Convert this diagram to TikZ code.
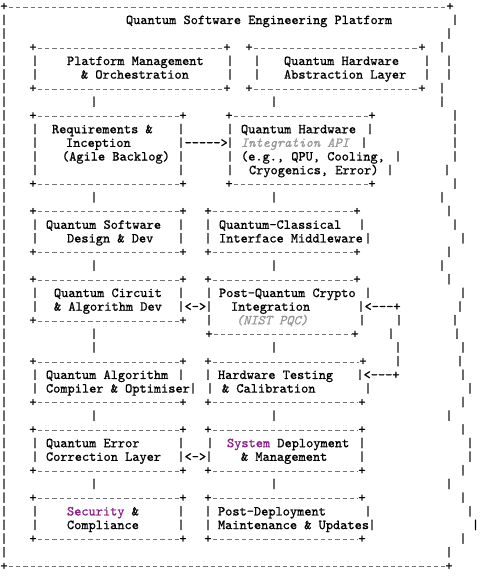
\documentclass[tikz,border=0pt]{standalone}
\usepackage{fontspec}
\newfontfamily\monof{lmmono10-regular}[Extension=.otf, ItalicFont=lmmono10-italic, FakeBold=0.9]
\usepackage{xcolor}
\definecolor{lg}{RGB}{150,150,150}
\definecolor{pu}{RGB}{140,30,140}
\tikzset{
  g/.style={font=\fontsize{13.7}{13.7}\selectfont\monof, inner sep=0pt, outer sep=0pt, text=black},
  dl/.style={draw=black!55, line width=0.75pt, dash pattern=on 4.2pt off 3pt, dash phase=5.7pt},
  gi/.style={g, text=lg, font=\fontsize{13.7}{13.7}\selectfont\monof\itshape},
}
\newcommand\hy{\mbox{-}}
\newcommand\RY[1]{10.4+13.65*(#1-1)}
\newcommand\mybar[3]{\node[g,anchor=base] (#1) at (#2,{\RY{#3}}) {|};}
\newcommand\myplus[3]{\node[g,anchor=base] (#1) at (#2,{\RY{#3}}) {+};}
\newcommand\mytext[4]{\node[g,anchor=base west] (#1) at (#2,{\RY{#3}}) {#4};}
\newcommand\mygrey[4]{\node[gi,anchor=base west] (#1) at (#2,{\RY{#3}}) {#4};}
\newcommand\mydash[2]{\draw[dl] ([yshift=3.4pt]#1.base east) -- ([yshift=3.4pt]#2.base west);}
\begin{document}
\begin{tikzpicture}[x=1pt,y=-1pt]
\useasboundingbox (0,0) rectangle (480,579);
% outer frame
\myplus{o1}{4}{1} \myplus{o2}{450}{1} \mydash{o1}{o2}
\foreach \r in {2,...,41} {\mybar{lb\r}{4}{\r}}
\myplus{o3}{4}{42} \myplus{o4}{449}{42} \mydash{o3}{o4}
% row 2-3
\mytext{title}{126}{2}{Quantum Software Engineering Platform}
\mybar{rb2}{455}{2}
\mybar{rb3}{449}{3}
% row 4-7 : top boxes
\myplus{a4}{33}{4} \myplus{b4}{227}{4} \myplus{c4}{249}{4} \myplus{d4}{422}{4}
\mydash{a4}{b4} \mydash{c4}{d4} \mybar{rb4}{442}{4}
\mybar{a5}{35}{5} \mytext{t5a}{67}{5}{Platform Management} \mybar{b5}{230}{5}
\mybar{c5}{257}{5} \mytext{t5b}{284}{5}{Quantum Hardware} \mybar{d5}{427}{5} \mybar{rb5}{449}{5}
\mybar{a6}{35}{6} \mytext{t6a}{81}{6}{\& Orchestration} \mybar{b6}{230}{6}
\mybar{c6}{257}{6} \mytext{t6b}{284}{6}{Abstraction Layer} \mybar{d6}{427}{6} \mybar{rb6}{449}{6}
\myplus{a7}{33}{7} \myplus{b7}{227}{7} \myplus{c7}{249}{7} \myplus{d7}{422}{7}
\mydash{a7}{b7} \mydash{c7}{d7} \mybar{rb7}{442}{7}
% row 8
\mybar{v8a}{94}{8} \mybar{v8b}{274}{8} \mybar{rb8}{442}{8}
% rows 9-14
\myplus{a9}{33}{9} \myplus{b9}{183}{9} \myplus{c9}{229}{9} \myplus{d9}{372}{9}
\mydash{a9}{b9} \mydash{c9}{d9} \mybar{rb9}{455}{9}
\mybar{a10}{35}{10} \mytext{t10a}{52}{10}{Requirements \&} \mybar{b10}{181}{10}
\mybar{c10}{230}{10} \mytext{t10b}{241}{10}{Quantum Hardware} \mybar{d10}{370}{10} \mybar{rb10}{455}{10}
\mybar{a11}{35}{11} \mytext{t11a}{66}{11}{Inception} \mybar{b11}{181}{11}
\mytext{ar11}{184.6}{11}{\hy\hy\hy\hy\hy>}
\mybar{c11}{230}{11} \mygrey{t11b}{241}{11}{Integration API} \mybar{d11}{364}{11} \mybar{rb11}{455}{11}
\mybar{a12}{35}{12} \mytext{t12a}{62}{12}{(Agile Backlog)} \mybar{b12}{181}{12}
\mybar{c12}{230}{12} \mytext{t12b}{241}{12}{(e.g., QPU, Cooling,} \mybar{d12}{398}{12} \mybar{rb12}{455}{12}
\mybar{a13}{35}{13} \mybar{b13}{181}{13}
\mybar{c13}{230}{13} \mytext{t13b}{249}{13}{Cryogenics, Error)} \mybar{d13}{390}{13} \mybar{rb13}{447}{13}
\myplus{a14}{33}{14} \myplus{b14}{183}{14} \myplus{c14}{229}{14} \myplus{d14}{372}{14}
\mydash{a14}{b14} \mydash{c14}{d14} \mybar{rb14}{455}{14}
% row 15
\mybar{v15a}{94}{15} \mybar{v15b}{274}{15} \mybar{rb15}{442}{15}
% rows 16-19
\myplus{a16}{33}{16} \myplus{b16}{183}{16} \myplus{c16}{208}{16} \myplus{d16}{357}{16}
\mydash{a16}{b16} \mydash{c16}{d16} \mybar{rb16}{449}{16}
\mybar{a17}{35}{17} \mytext{t17a}{46}{17}{Quantum Software} \mybar{b17}{181}{17}
\mybar{c17}{208}{17} \mytext{t17b}{219}{17}{Quantum-Classical} \mybar{d17}{362}{17} \mybar{rb17}{455}{17}
\mybar{a18}{35}{18} \mytext{t18a}{67}{18}{Design \& Dev} \mybar{b18}{181}{18}
\mybar{c18}{208}{18} \mytext{t18b}{219}{18}{Interface Middleware} \mybar{d18}{368}{18} \mybar{rb18}{463}{18}
\myplus{a19}{33}{19} \myplus{b19}{183}{19} \myplus{c19}{208}{19} \myplus{d19}{357}{19}
\mydash{a19}{b19} \mydash{c19}{d19} \mybar{rb19}{449}{19}
% row 20
\mybar{v20a}{94}{20} \mybar{v20b}{274}{20} \mybar{rb20}{442}{20}
% rows 21-24
\myplus{a21}{33}{21} \myplus{b21}{183}{21} \myplus{c21}{208}{21} \myplus{d21}{357}{21}
\mydash{a21}{b21} \mydash{c21}{d21} \mybar{rb21}{449}{21}
\mybar{a22}{35}{22} \mytext{t22a}{54}{22}{Quantum Circuit} \mybar{b22}{181}{22}
\mybar{c22}{209}{22} \mytext{t22b}{219}{22}{Post-Quantum Crypto} \mybar{d22}{368}{22} \mybar{rb22}{463}{22}
\mybar{a23}{35}{23} \mytext{t23a}{54}{23}{\& Algorithm Dev} \mybar{b23}{181}{23}
\mytext{ar23}{184.6}{23}{<->}
\mybar{c23}{209}{23} \mytext{t23b}{231}{23}{Integration} \mybar{d23}{361}{23}
\mytext{ar23b}{364.6}{23}{<\hy\hy\hy+} \mybar{rb23}{460}{23}
\myplus{a24}{33}{24} \myplus{b24}{183}{24} \mydash{a24}{b24}
\mybar{c24}{209}{24} \mygrey{t24b}{236}{24}{(NIST PQC)} \mybar{d24}{362}{24} \mybar{e24}{399}{24} \mybar{rb24}{455}{24}
% rows 25-26
\mybar{v25a}{94}{25} \myplus{c25}{209}{25} \myplus{d25}{355}{25} \mydash{c25}{d25}
\mybar{e25}{391}{25} \mybar{rb25}{457}{25}
\mybar{v26a}{94}{26} \mybar{v26b}{274}{26} \mybar{e26}{398}{26} \mybar{rb26}{463}{26}
% rows 27-30
\myplus{a27}{33}{27} \myplus{b27}{183}{27} \myplus{c27}{208}{27} \myplus{d27}{363}{27}
\mydash{a27}{b27} \mydash{c27}{d27} \mybar{e27}{398}{27} \mybar{rb27}{460}{27}
\mybar{a28}{35}{28} \mytext{t28a}{46}{28}{Quantum Algorithm} \mybar{b28}{181}{28}
\mybar{c28}{208}{28} \mytext{t28b}{218}{28}{Hardware Testing} \mybar{d28}{360}{28}
\mytext{ar28}{363.6}{28}{<\hy\hy\hy+} \mybar{rb28}{463}{28}
\mybar{a29}{35}{29} \mytext{t29a}{46}{29}{Compiler \& Optimiser} \mybar{b29}{193}{29}
\mybar{c29}{210}{29} \mytext{t29b}{222}{29}{\& Calibration} \mybar{d29}{368}{29} \mybar{rb29}{470}{29}
\myplus{a30}{33}{30} \myplus{b30}{183}{30} \myplus{c30}{208}{30} \myplus{d30}{362}{30}
\mydash{a30}{b30} \mydash{c30}{d30} \mybar{rb30}{463}{30}
% row 31
\mybar{v31a}{94}{31} \mybar{v31b}{274}{31} \mybar{rb31}{449}{31}
% rows 32-35
\myplus{a32}{33}{32} \myplus{b32}{183}{32} \myplus{c32}{208}{32} \myplus{d32}{362}{32}
\mydash{a32}{b32} \mydash{c32}{d32} \mybar{rb32}{463}{32}
\mybar{a33}{35}{33} \mytext{t33a}{46}{33}{Quantum Error} \mybar{b33}{181}{33}
\mybar{c33}{210}{33} \mytext{t33b}{227}{33}{{\color{pu}System} Deployment} \mybar{d33}{362}{33} \mybar{rb33}{470}{33}
\mybar{a34}{35}{34} \mytext{t34a}{46}{34}{Correction Layer} \mybar{b34}{181}{34}
\mytext{ar34}{184.6}{34}{<->}
\mybar{c34}{209}{34} \mytext{t34b}{241}{34}{\& Management} \mybar{d34}{362}{34} \mybar{rb34}{470}{34}
\myplus{a35}{33}{35} \myplus{b35}{183}{35} \myplus{c35}{208}{35} \myplus{d35}{362}{35}
\mydash{a35}{b35} \mydash{c35}{d35} \mybar{rb35}{463}{35}
% row 36
\mybar{v36a}{94}{36} \mybar{v36b}{274}{36} \mybar{rb36}{449}{36}
% rows 37-40
\myplus{a37}{33}{37} \myplus{b37}{183}{37} \myplus{c37}{208}{37} \myplus{d37}{362}{37}
\mydash{a37}{b37} \mydash{c37}{d37} \mybar{rb37}{463}{37}
\mybar{a38}{35}{38} \mytext{t38a}{67}{38}{{\color{pu}Security} \&} \mybar{b38}{181}{38}
\mybar{c38}{208}{38} \mytext{t38b}{218}{38}{Post-Deployment} \mybar{d38}{368}{38} \mybar{rb38}{470}{38}
\mybar{a39}{35}{39} \mytext{t39a}{67}{39}{Compliance} \mybar{b39}{181}{39}
\mybar{c39}{208}{39} \mytext{t39b}{218}{39}{Maintenance \& Updates} \mybar{d39}{372}{39} \mybar{rb39}{475.5}{39}
\myplus{a40}{33}{40} \myplus{b40}{183}{40} \myplus{c40}{208}{40} \myplus{d40}{362}{40}
\mydash{a40}{b40} \mydash{c40}{d40} \mybar{rb40}{463}{40}
\mybar{rb41}{449}{41}
\end{tikzpicture}
\end{document}
